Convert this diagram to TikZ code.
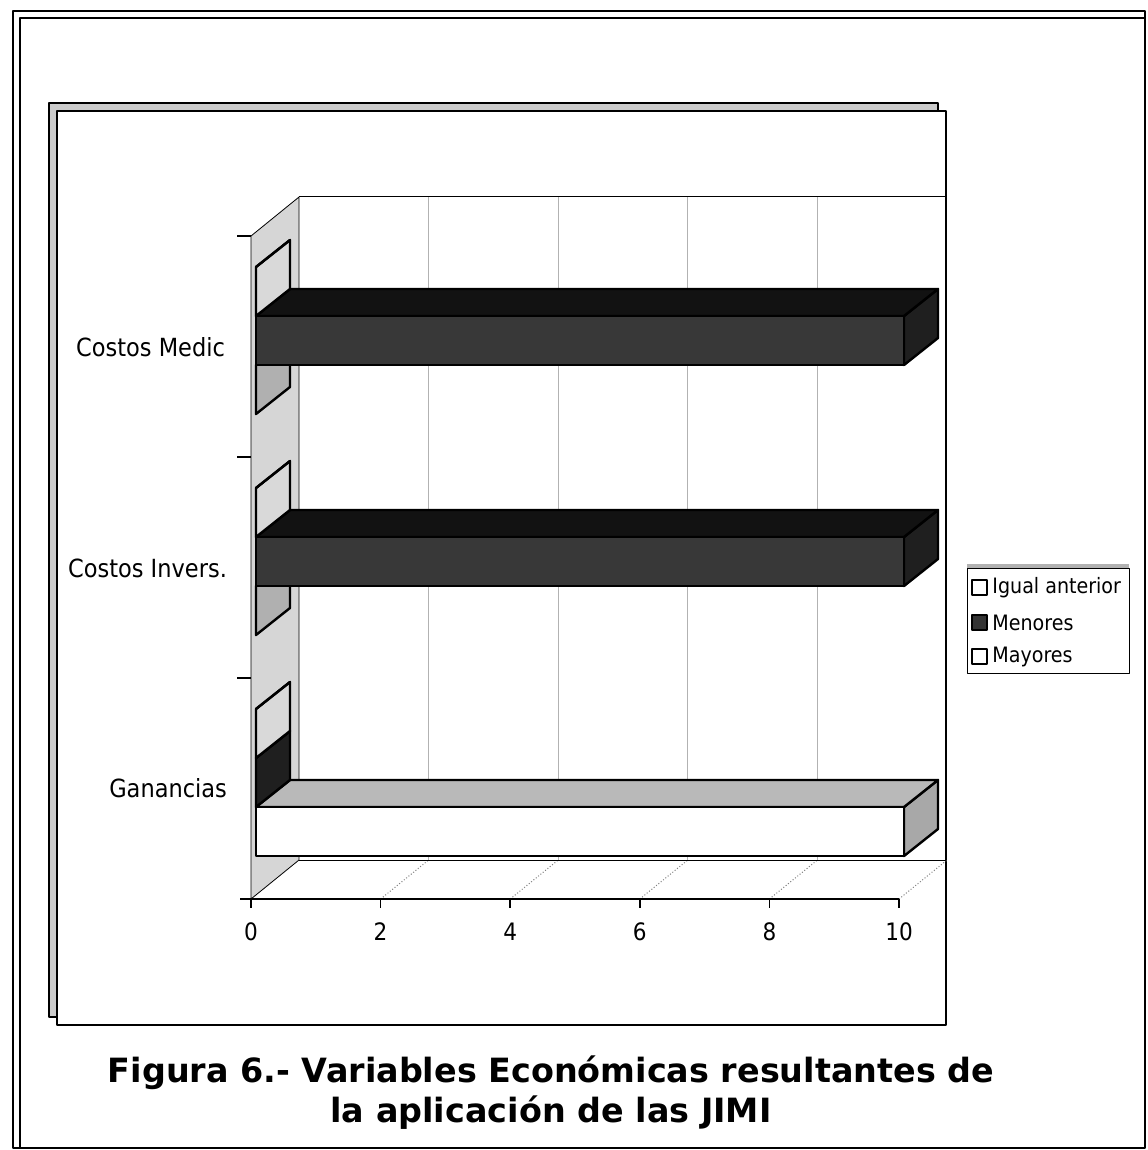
\documentclass[tikz,border=0pt]{standalone}
\usepackage{fontspec}
\setmainfont{DejaVu Sans}[FakeStretch=0.9]
\newfontfamily\titlefont{DejaVu Sans Bold}
\begin{document}
\begin{tikzpicture}[x=0.5pt,y=-0.5pt,line join=round]
	\tikzset{declare function={u=64.8;}}
	\useasboundingbox (0,0) rectangle (1147,1150);
	\path 
	(251,899)coordinate (O)++(48,-39)coordinate (P)
	(251,236)coordinate (T)++(48,-39)coordinate (Q)
	(946,197)coordinate (R)
	(946,860)coordinate (S)
	;
	\draw[line width=1pt] (13,11) rectangle (1145,1148);
	\draw[line width=0.8pt] (20,1148)--(20,18)--(1145,18);
	\draw[line width=0.8pt,fill=gray!40] (49,103) rectangle (938,1017);
	\draw[line width=1pt,fill=white] (57,111) rectangle (946,1025);
	\draw[line width=0.4pt,fill=gray!32] (O)--(T)--(Q)--(P)--cycle;
	\foreach \k in {2,4,6,8}
	\draw[gray!60,line width=0.4pt] (299+\k*u,197)--(299+\k*u,860);
	\foreach \k in {2,4,...,10}
	\draw[gray,densely dotted,line width=0.5pt] (251+\k*u,899)--(299+\k*u,860);
	\draw[line width=0.5pt] (Q)--(R) (P)--(S);
	\draw[line width=0.9pt] (240,899)--(899,899);
	\foreach \k in {0,2,...,10}{
		\draw[line width=0.8pt] (251+\k*u,899)--(251+\k*u,908);
		\node[font=\fontsize{12}{14}\selectfont] (v\k) at (251+\k*u,932) {\k};
	}
	\foreach \y in {236,457,678}
	\draw[line width=0.6pt] (237,\y)--(251,\y);
	\foreach \v/\y/\f/\t/\e in {
		0/370/white/gray!55/gray!62,10/321/black!78/black!93/black!88,0/272/white/gray!30/gray!30,
		0/591/white/gray!55/gray!62,10/542/black!78/black!93/black!88,0/493/white/gray!30/gray!30,
		10/812/white/gray!55/gray!68,0/763/black!78/black!93/black!88,0/714/white/gray!30/gray!30}{
		\draw[line width=1.2pt,fill=\e] (256+\v*u,\y-5)--(290+\v*u,\y-32)--(290+\v*u,\y+17)--(256+\v*u,\y+44)--cycle;
		\draw[line width=1.2pt,fill=\t] (256,\y-5)--(256+\v*u,\y-5)--(290+\v*u,\y-32)--(290,\y-32)--cycle;
		\draw[line width=1.2pt,fill=\f] (256,\y-5) rectangle (256+\v*u,\y+44);
	}
	\node[anchor=east,font=\fontsize{12.5}{15}\selectfont] (medic) at (232,347) {Costos Medic};
	\node[anchor=east,font=\fontsize{12.5}{15}\selectfont] (invers) at (234,568) {Costos Invers.};
	\node[anchor=east,font=\fontsize{12.5}{15}\selectfont] (ganancias) at (234,788) {Ganancias};
	\draw[line width=0.5pt,fill=white] (967,568) rectangle (1129,673);
	\draw[gray!60,line width=1.6pt] (967,566)--(1129,566);
	\draw[line width=0.8pt,fill=white] (972,580) rectangle (987,595);
	\draw[line width=0.8pt,fill=black!80] (972,615) rectangle (987,630);
	\draw[line width=0.8pt,fill=white] (972,649) rectangle (987,664);
	\node[anchor=west,inner sep=1pt,font=\fontsize{10.6}{12}\selectfont] (igual) at (990,588) {Igual anterior};
	\node[anchor=west,inner sep=1pt,font=\fontsize{10.6}{12}\selectfont] (menores) at (990,623) {Menores};
	\node[anchor=west,inner sep=1pt,font=\fontsize{10.6}{12}\selectfont] (mayores) at (990,657) {Mayores};
	\node[align=center,font=\titlefont\fontsize{16.7}{20}\selectfont] (title) at (551,1093) {Figura 6.- Variables Económicas resultantes de\\la aplicación de las JIMI};
\end{tikzpicture}
\end{document}
